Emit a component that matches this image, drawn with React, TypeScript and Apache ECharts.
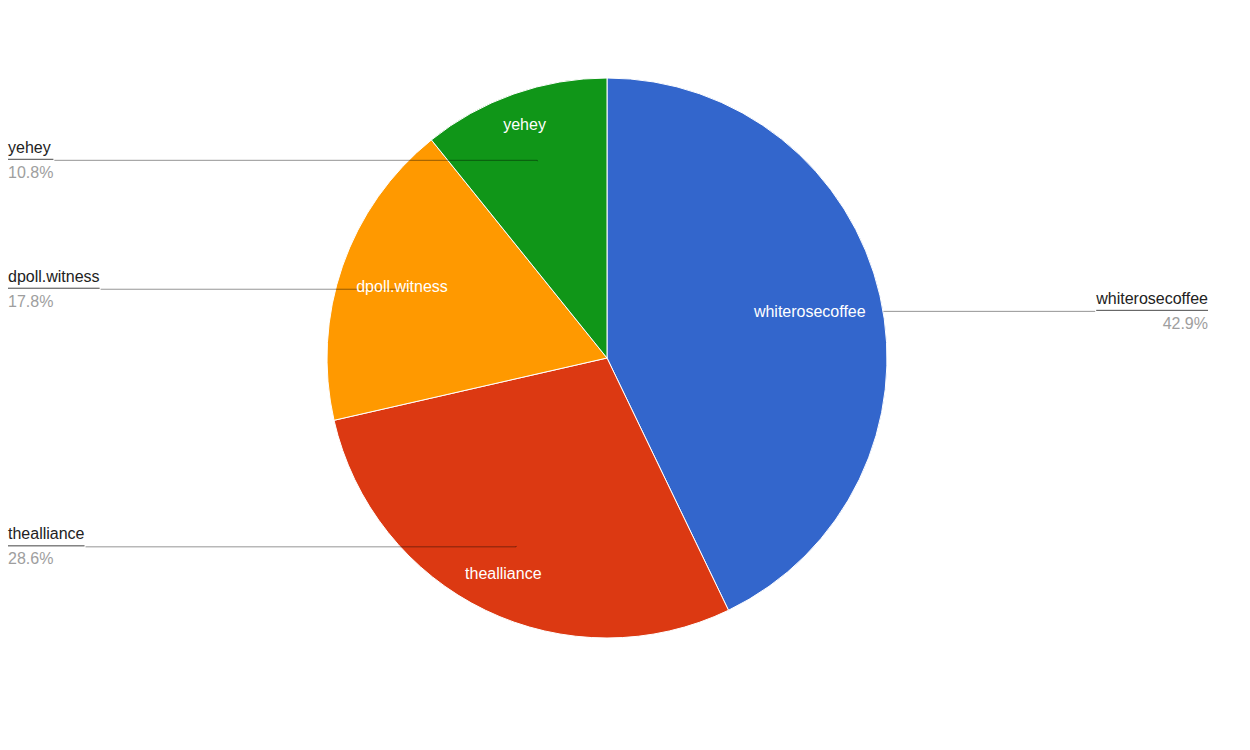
import React, { useEffect, useRef } from "react";
import * as echarts from "echarts";

const categories = ["whiterosecoffee", "thealliance", "dpoll.witness", "yehey"];
const values = [42.9, 28.6, 17.8, 10.8];
const colors = ["#3366cc", "#dc3912", "#ff9900", "#109618"];
// which side the outside label sits on
const rightSide = [true, false, false, false];

const FONT = '"Liberation Sans", Arial, Helvetica, sans-serif';
const LINE = "rgba(0,0,0,0.42)";

export default function App() {
  const ref = useRef<HTMLDivElement>(null);

  useEffect(() => {
    if (!ref.current) return;
    const chart = echarts.init(ref.current, undefined, { renderer: "svg" });
    const center = [607, 358];
    const R = 280;
    // inner radius of the invisible ring carrying each inside label
    const insideInner = [130, 192, 148, 210];

    const base = {
      type: "pie",
      center,
      startAngle: 90,
      clockwise: true,
      silent: true,
      animation: false,
      emphasis: { disabled: true },
    };

    const mainSeries = {
      ...base,
      z: 2,
      radius: [0, R],
      label: { show: false },
      labelLine: { show: false },
      itemStyle: { borderColor: "#ffffff", borderWidth: 1 },
      data: categories.map((name, i) => ({
        name,
        value: values[i],
        itemStyle: { color: colors[i] },
      })),
    };

    const outsideSeries = (right: boolean, z: number) => ({
      ...base,
      z,
      radius: [0, R * 0.745],
      itemStyle: { color: "rgba(255,255,255,0)", borderWidth: 0 },
      avoidLabelOverlap: true,
      label: {
        show: true,
        position: "outside",
        alignTo: "edge",
        edgeDistance: 8,
        distanceToLabelLine: 0,
        fontFamily: FONT,
        formatter: (p: any) =>
          `{n|${p.name}}\n{hr|}\n{p|${Number(p.value).toFixed(1)}%}`,
        rich: {
          n: { fontSize: 16, color: "#222222", lineHeight: 24, fontFamily: FONT },
          hr: { height: 0, lineHeight: 0, width: "100%", borderColor: LINE, borderWidth: 1 },
          p: { fontSize: 16, color: "#9e9e9e", lineHeight: 26, fontFamily: FONT },
        },
      },
      labelLine: {
        show: true,
        length: 1,
        length2: 10,
        lineStyle: { color: LINE, width: 1, opacity: 1 },
      },
      data: categories.map((name, i) => ({
        name,
        value: values[i],
        label: {
          show: rightSide[i] === right,
          edgeDistance: rightSide[i] ? 42 : 8,
        },
        labelLine: { show: rightSide[i] === right },
      })),
    });

    const insideSeries = (idx: number) => ({
      ...base,
      z: 5,
      radius: [insideInner[idx], R],
      itemStyle: { color: "rgba(255,255,255,0)", borderWidth: 0 },
      label: {
        show: true,
        position: "inside",
        color: "#ffffff",
        fontSize: 16,
        fontFamily: FONT,
        formatter: "{b}",
      },
      labelLine: { show: false },
      data: categories.map((name, i) => ({
        name,
        value: values[i],
        label: { show: i === idx },
      })),
    });

    chart.setOption({
      animation: false,
      backgroundColor: "#ffffff",
      textStyle: { fontFamily: FONT },
      series: [
        outsideSeries(true, 1),
        mainSeries,
        outsideSeries(false, 3),
        ...categories.map((_, i) => insideSeries(i)),
      ],
    });

    return () => chart.dispose();
  }, []);

  return (
    <div
      ref={ref}
      style={{ position: "absolute", left: 0, top: 0, width: 1250, height: 750 }}
    />
  );
}
